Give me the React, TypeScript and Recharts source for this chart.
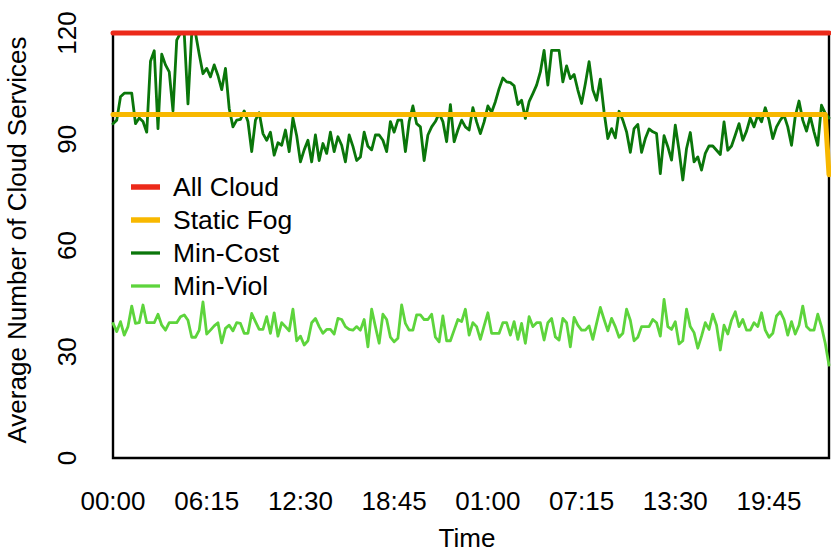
import { LineChart, Line, XAxis, YAxis, ReferenceArea, Legend, Label } from "recharts";

// 15-minute samples over two days; tick labels every 6h15 (25 samples)
const TIME_LABELS = ["00:00", "06:15", "12:30", "18:45", "01:00", "07:15", "13:30", "19:45"];
const TIME_TICKS = [0, 25, 50, 75, 100, 125, 150, 175];
const Y_TICKS = [0, 30, 60, 90, 120];

const ALL_CLOUD_LEVEL = 120;
const STATIC_FOG_LEVEL = 97;
const STATIC_FOG_END = 80;

const MIN_COST = [
  94.4, 95.4, 102, 103, 103, 103, 94.4, 96, 95, 92, 112, 115, 93, 114, 111, 109,
  98, 118, 120, 120, 100, 120, 120, 114, 108.5, 110, 107.6, 111, 108, 104, 110, 98.7,
  93.5, 95.4, 95.6, 98, 95, 86.5, 95.4, 97.5, 91.6, 89.7, 92, 85.5, 89, 88.3, 92.6, 86.5,
  96, 91, 83.6, 87, 89.7, 83.6, 91.2, 84, 88.8, 86, 92, 86.5, 90.7, 88.3, 83.6, 91.2,
  88, 84, 85, 92, 88, 87, 91.2, 91.2, 89.7, 86.5, 95, 92, 95.4, 95.4, 86.5, 95,
  99.4, 94.4, 93.5, 84, 91.2, 93.5, 95, 97.3, 95, 89.3, 99.8, 89.3, 92.6, 95.4, 93.5, 92.6,
  98.9, 94.9, 91.6, 94.9, 99.4, 97.6, 100.6, 104.3, 107.3, 106.2, 106, 105.1, 99.8, 101, 95.9, 100.6,
  102.9, 105.3, 109, 115.1, 105.3, 115.1, 115.1, 115.1, 106.2, 110.7, 107.1, 108.3, 103.9, 100.1, 105.7, 111.9,
  104, 101, 107, 97.7, 90.2, 93, 90.4, 97.9, 95.4, 92.1, 86.3, 93, 94.2, 86.3, 90.2, 92.9,
  92.1, 91.6, 80.3, 91, 87.9, 84.1, 94, 86.9, 78.5, 87.4, 91.9, 83.6, 85, 81.3, 86, 88.1,
  88.1, 86.9, 85.7, 94.9, 86.9, 88.1, 91.2, 94.4, 89.7, 92.3, 96, 93.5, 96.8, 94.9, 98.9, 95.4,
  90.2, 93.5, 95.4, 96.8, 93.5, 88.3, 96.5, 100.8, 95.4, 92.3, 96.5, 92.1, 88.3, 99.6, 97.3, 96,
];

const MIN_VIOL = [
  38, 35.7, 38.5, 34.7, 37.1, 42.9, 38, 38.2, 43.2, 38.2, 38.2, 38.2, 40.6, 37.5, 36.1, 38.2,
  38.2, 38.2, 39.9, 40.4, 38.9, 34.1, 34.1, 36.1, 44.1, 35, 36.1, 37.3, 38.2, 32.5, 36.6, 37.5,
  35.9, 38.2, 38, 35.2, 35.2, 40.8, 38.5, 36.3, 36.3, 39.9, 35.2, 41, 34.4, 38.2, 37.1, 35.9,
  42, 33.1, 34.4, 31.9, 33.1, 38.2, 39.4, 37.1, 35.2, 36.3, 36.3, 35, 39.4, 39.1, 37.1, 36.3,
  36.1, 37.1, 36.1, 39.1, 31.4, 42, 37.1, 32.4, 40.6, 39.1, 34.1, 32.8, 33.8, 43.2, 38, 36.1,
  36.1, 40.4, 40.4, 39.1, 39.1, 40.6, 34.1, 32.8, 40.1, 33.1, 33.1, 36.1, 39.1, 38.5, 42, 34.7,
  38.2, 37.1, 33.5, 37.3, 41, 35.2, 35.2, 35.2, 38.2, 38.2, 34.7, 38.5, 33.5, 38, 32.4, 39.9,
  37.1, 38.2, 38.2, 33.3, 38.2, 39.4, 34.2, 33.3, 39.4, 38.2, 31.4, 39.7, 37.5, 36.1, 36.1, 37.3,
  33.5, 38, 42.5, 39.1, 35.9, 39.4, 37.1, 34.1, 35.2, 42, 38.9, 33.1, 34.1, 37.1, 37.1, 37.1,
  39.1, 38.2, 34.4, 44.8, 37.1, 36.3, 38.5, 32.2, 33.1, 42, 37.1, 35.4, 31, 34.4, 38.2, 36.3,
  40.6, 37.5, 30.5, 37.5, 35, 38.9, 41.3, 37.1, 39.1, 36.1, 36.1, 38.2, 37.1, 41, 36.1, 34.1,
  35.2, 40.1, 41.3, 39.1, 34.7, 38.5, 35, 37.5, 42.9, 37.1, 36.1, 36.1, 40.6, 37.1, 32.4, 26.2,
];

const LAST = MIN_COST.length - 1;

const data = MIN_COST.map((v, i) => ({
  t: i,
  allCloud: ALL_CLOUD_LEVEL,
  staticFog: i === LAST ? STATIC_FOG_END : STATIC_FOG_LEVEL,
  minCost: v,
  minViol: MIN_VIOL[i],
}));

const FONT = "'Liberation Sans', Arial, Helvetica, sans-serif";

// legend order; drawn in reverse so All Cloud sits on top
const SERIES = [
  { key: "allCloud", name: "All Cloud", color: "#EC2A1A", width: 5 },
  { key: "staticFog", name: "Static Fog", color: "#F8B800", width: 5 },
  { key: "minCost", name: "Min-Cost", color: "#0A760A", width: 2.8 },
  { key: "minViol", name: "Min-Viol", color: "#5DD43C", width: 2.8 },
];

function XTick({ x, payload }: { x?: number; payload?: { value: number } }) {
  const idx = TIME_TICKS.indexOf(payload?.value ?? -1);
  return (
    <text x={x} y={510} textAnchor="middle" fontSize={26} fontFamily={FONT} fill="#000">
      {TIME_LABELS[idx]}
    </text>
  );
}

function YTick({ y, payload }: { y?: number; payload?: { value: number } }) {
  return (
    <text
      x={76}
      y={y}
      transform={`rotate(-90 76 ${y})`}
      textAnchor="middle"
      fontSize={26}
      fontFamily={FONT}
      fill="#000"
    >
      {payload?.value}
    </text>
  );
}

function LegendBox() {
  return (
    <svg width={831} height={553} style={{ position: "absolute", left: 0, top: 0 }}>
      {SERIES.map((s, i) => {
        const y = 187 + i * 33;
        return (
          <g key={s.key}>
            <line x1={131} x2={160} y1={y} y2={y} stroke={s.color} strokeWidth={s.width + 0.5} />
            <text x={173} y={y + 9} fontSize={26.5} fontFamily={FONT} fill="#000">
              {s.name}
            </text>
          </g>
        );
      })}
    </svg>
  );
}

export default function App() {
  return (
    <div style={{ width: 831, height: 553 }}>
      <style>{"body{margin:0}"}</style>
      <LineChart width={831} height={553} data={data} margin={{ top: 33, right: 2, bottom: 0, left: 0 }}>
        <XAxis
          type="number"
          dataKey="t"
          domain={[0, LAST]}
          ticks={TIME_TICKS}
          interval={0}
          height={95}
          axisLine={false}
          tickLine={false}
          tick={<XTick />}
        >
          <Label
            content={() => (
              <text x={467} y={547} textAnchor="middle" fontSize={26} fontFamily={FONT} fill="#000">
                Time
              </text>
            )}
          />
        </XAxis>
        <YAxis
          type="number"
          domain={[0, 120]}
          ticks={Y_TICKS}
          interval={0}
          width={113}
          axisLine={false}
          tickLine={false}
          tick={<YTick />}
        >
          <Label
            content={() => (
              <text
                x={26}
                y={240}
                transform="rotate(-90 26 240)"
                textAnchor="middle"
                fontSize={26}
                fontFamily={FONT}
                fill="#000"
              >
                Average Number of Cloud Services
              </text>
            )}
          />
        </YAxis>
        <ReferenceArea x1={0} x2={LAST} y1={0} y2={120} fill="none" fillOpacity={0} stroke="#000" strokeWidth={2.4} />
        {[...SERIES].reverse().map((s) => (
          <Line
            key={s.key}
            type="linear"
            dataKey={s.key}
            name={s.name}
            stroke={s.color}
            strokeWidth={s.width}
            strokeLinejoin="round"
            strokeLinecap="round"
            dot={false}
            activeDot={false}
            isAnimationActive={false}
          />
        ))}
        <Legend
          layout="horizontal"
          verticalAlign="middle"
          align="center"
          wrapperStyle={{ position: "absolute", left: 0, top: 0, width: 831, height: 553, pointerEvents: "none" }}
          content={() => <LegendBox />}
        />
      </LineChart>
    </div>
  );
}
